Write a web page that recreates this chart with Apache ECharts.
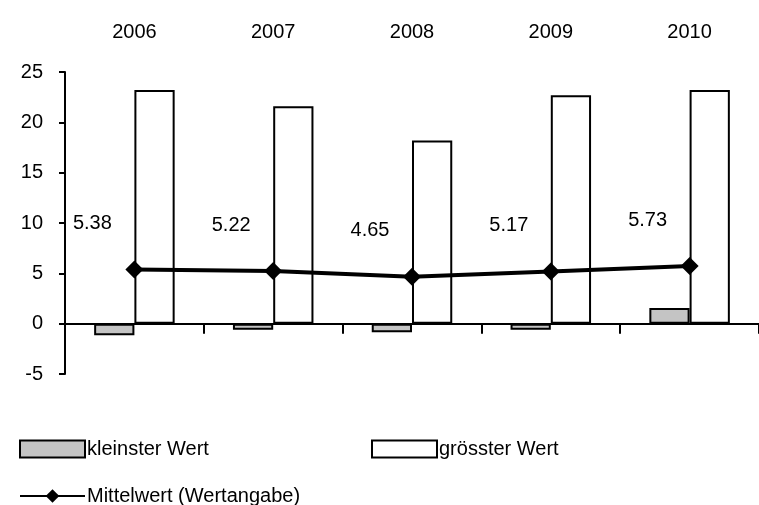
<!DOCTYPE html>
<html>
<head>
<meta charset="utf-8">
<script src="https://cdn.jsdelivr.net/npm/echarts@6/dist/echarts.min.js"></script>
<style>html,body{margin:0;padding:0;background:#fff}#c{width:759px;height:505px}</style>
</head>
<body>
<div id="c"></div>
<script>
var years = ['2006', '2007', '2008', '2009', '2010'];
var minValues = [-1.15, -0.6, -0.85, -0.6, 1.55];
var maxValues = [23.2, 21.6, 18.2, 22.7, 23.2];
var meanValues = [5.38, 5.22, 4.65, 5.17, 5.73];
var yTicks = [-5, 0, 5, 10, 15, 20, 25];

var font = 'Liberation Sans';
var chart = echarts.init(document.getElementById('c'));
function legendAt(left, top, name, icon) {
    var item = {name: name};
    if (icon) item.icon = icon;
    return {
        left: left, top: top, data: [item],
        itemWidth: 65, itemHeight: 17, itemGap: 0,
        textStyle: {fontFamily: font, fontSize: 20, color: '#000', padding: [0, 0, 0, -3]}
    };
}
chart.setOption({
    animation: false,
    grid: {left: 65, right: 0, top: 72, bottom: 131},
    legend: [
        legendAt(14, 434, 'kleinster Wert', 'rect'),
        legendAt(366, 434, 'grösster Wert', 'rect'),
        legendAt(14, 481, 'Mittelwert (Wertangabe)')
    ],
    xAxis: [{
        type: 'category', data: years, position: 'bottom',
        axisLine: {onZero: true, lineStyle: {color: '#000', width: 2}},
        axisTick: {show: true, length: 10, lineStyle: {color: '#000', width: 2}},
        axisLabel: {show: false}
    }, {
        type: 'category', data: years, position: 'top',
        axisLine: {show: false}, axisTick: {show: false},
        axisLabel: {fontFamily: font, fontSize: 20, color: '#000', margin: 30}
    }],
    yAxis: {
        type: 'value', min: yTicks[0], max: yTicks[yTicks.length - 1], interval: 5,
        splitLine: {show: false},
        axisLine: {show: true, lineStyle: {color: '#000', width: 2}},
        axisTick: {show: true, length: 6, lineStyle: {color: '#000', width: 2}},
        axisLabel: {fontFamily: font, fontSize: 20, color: '#000', margin: 22}
    },
    series: [{
        name: 'kleinster Wert', type: 'bar', data: minValues,
        barWidth: '29%', barGap: '0%',
        itemStyle: {color: '#c4c4c4', borderColor: '#000', borderWidth: 2}
    }, {
        name: 'grösster Wert', type: 'bar', data: maxValues,
        barWidth: '29%', barGap: '0%',
        itemStyle: {color: '#fff', borderColor: '#000', borderWidth: 2}
    }, {
        name: 'Mittelwert (Wertangabe)', type: 'line', data: meanValues,
        symbol: 'diamond', symbolSize: 18, z: 5,
        lineStyle: {color: '#000', width: 4},
        itemStyle: {color: '#000'},
        label: {show: true, position: 'top', offset: [-42, -22],
            fontFamily: font, fontSize: 20, color: '#000'}
    }]
});
</script>
</body>
</html>
